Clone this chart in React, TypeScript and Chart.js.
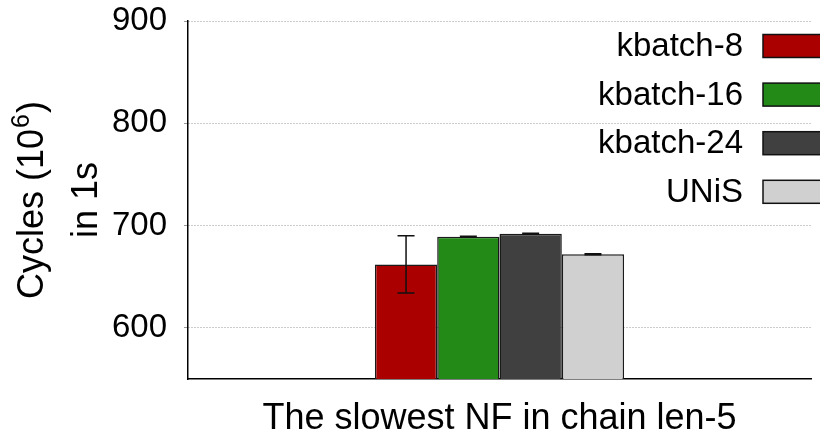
import React, { useEffect, useRef } from "react";
import { Chart, registerables } from "chart.js";

Chart.register(...registerables);

const categories = ["The slowest NF in chain len-5"];
const seriesLabels = ["kbatch-8", "kbatch-16", "kbatch-24", "UNiS"];
const kbatch8 = [662];
const kbatch16 = [689];
const kbatch24 = [692];
const unis = [672];
const errorLow = [634, 688.5, 691.5, 671.5];
const errorHigh = [690, 689.5, 692.5, 672.5];
const seriesColors = ["#aa0000", "#238a17", "#404040", "#d0d0d0"];
const yTicks = [600, 700, 800, 900];
const yTitleMain = "Cycles (10";
const yTitleSup = "6";
const yTitleEnd = ")";
const yTitleLine2 = "in 1s";
const xTitle = categories[0];

const FONT = "'Liberation Sans', Arial, Helvetica, sans-serif";

const errorBarPlugin = {
  id: "errorBars",
  afterDatasetsDraw(chart: any) {
    const ctx = chart.ctx;
    const yScale = chart.scales.y;
    ctx.save();
    ctx.strokeStyle = "#111";
    ctx.lineWidth = 1.5;
    chart.data.datasets.forEach((_ds: any, i: number) => {
      const meta = chart.getDatasetMeta(i);
      meta.data.forEach((bar: any) => {
        const x = bar.x;
        const yl = yScale.getPixelForValue(errorLow[i]);
        const yh = yScale.getPixelForValue(errorHigh[i]);
        ctx.beginPath();
        ctx.moveTo(x, yl);
        ctx.lineTo(x, yh);
        ctx.moveTo(x - 8.5, yl);
        ctx.lineTo(x + 8.5, yl);
        ctx.moveTo(x - 8.5, yh);
        ctx.lineTo(x + 8.5, yh);
        ctx.stroke();
      });
    });
    ctx.restore();
  },
};

const legendPlugin = {
  id: "customLegend",
  afterDraw(chart: any) {
    const ctx = chart.ctx;
    const area = chart.chartArea;
    ctx.save();
    ctx.font = `33px ${FONT}`;
    ctx.textAlign = "right";
    ctx.textBaseline = "middle";
    chart.data.datasets.forEach((ds: any, i: number) => {
      const cy = area.top + 25 + i * 48.6;
      ctx.fillStyle = "#000";
      ctx.fillText(ds.label, area.right - 68, cy + 1);
      ctx.fillStyle = ds.backgroundColor;
      ctx.fillRect(area.right - 48, cy - 11.5, 70, 23);
      ctx.strokeStyle = "#111";
      ctx.lineWidth = 1.5;
      ctx.strokeRect(area.right - 48, cy - 11.5, 70, 23);
    });
    ctx.restore();
  },
};

const yTitlePlugin = {
  id: "yTitle",
  afterDraw(chart: any) {
    const ctx = chart.ctx;
    const area = chart.chartArea;
    const cy = (area.top + area.bottom) / 2;
    const mainFont = `36px ${FONT}`;
    const supFont = `25px ${FONT}`;
    ctx.save();
    ctx.fillStyle = "#000";
    ctx.textBaseline = "alphabetic";
    ctx.textAlign = "left";
    // line 1
    ctx.save();
    ctx.translate(43, cy);
    ctx.rotate(-Math.PI / 2);
    ctx.font = mainFont;
    const w1 = ctx.measureText(yTitleMain).width;
    const w3 = ctx.measureText(yTitleEnd).width;
    ctx.font = supFont;
    const w2 = ctx.measureText(yTitleSup).width;
    let x = -(w1 + w2 + w3 + 2) / 2;
    ctx.font = mainFont;
    ctx.fillText(yTitleMain, x, 0);
    x += w1 + 1;
    ctx.font = supFont;
    ctx.fillText(yTitleSup, x, -14);
    x += w2 + 1;
    ctx.font = mainFont;
    ctx.fillText(yTitleEnd, x, 0);
    ctx.restore();
    // line 2
    ctx.save();
    ctx.translate(96.5, cy);
    ctx.rotate(-Math.PI / 2);
    ctx.font = mainFont;
    ctx.textAlign = "center";
    ctx.fillText(yTitleLine2, 0, 0);
    ctx.restore();
    ctx.restore();
  },
};

export default function App() {
  const canvasRef = useRef<HTMLCanvasElement | null>(null);

  useEffect(() => {
    if (!canvasRef.current) return;
    const values = [kbatch8, kbatch16, kbatch24, unis];
    const chart = new Chart(canvasRef.current, {
      type: "bar",
      data: {
        labels: categories,
        datasets: seriesLabels.map((label, i) => ({
          label,
          data: values[i],
          backgroundColor: seriesColors[i],
          borderColor: "#1a1a1a",
          borderWidth: 1.5,
          categoryPercentage: 0.4,
          barPercentage: 1.0,
        })),
      },
      options: {
        animation: false,
        responsive: false,
        devicePixelRatio: 1,
        layout: { padding: { left: 0, top: 21, right: 9, bottom: 0 } },
        plugins: {
          legend: { display: false },
          tooltip: { enabled: false },
        },
        scales: {
          x: {
            ticks: { display: false },
            grid: { display: false },
            border: { display: true, color: "#000", width: 1.5 },
            title: {
              display: true,
              text: xTitle,
              color: "#000",
              font: { family: FONT, size: 36, lineHeight: 1.0 },
              padding: { top: 0, bottom: 0 },
            },
            afterFit(scale: any) {
              scale.height = 58;
              scale.paddingLeft = 0;
              scale.paddingRight = 0;
            },
          },
          y: {
            min: 550,
            max: 900,
            afterBuildTicks(scale: any) {
              scale.ticks = yTicks.map((v) => ({ value: v }));
            },
            ticks: {
              color: "#000",
              font: { family: FONT, size: 33 },
              padding: 17,
            },
            grid: {
              color: "#999",
              lineWidth: 1,
              drawTicks: true,
              tickLength: 4,
            },
            border: { display: true, color: "#000", width: 1.5, dash: [1, 2] },
            title: { display: false },
            afterFit(scale: any) {
              scale.width = 188;
              scale.paddingTop = 0;
              scale.paddingBottom = 0;
            },
          },
        },
      },
      plugins: [errorBarPlugin, legendPlugin, yTitlePlugin],
    });
    return () => chart.destroy();
  }, []);

  return (
    <div style={{ position: "fixed", left: 0, top: 0, width: 820, height: 437, background: "#fff" }}>
      <canvas ref={canvasRef} width={820} height={437} />
    </div>
  );
}
